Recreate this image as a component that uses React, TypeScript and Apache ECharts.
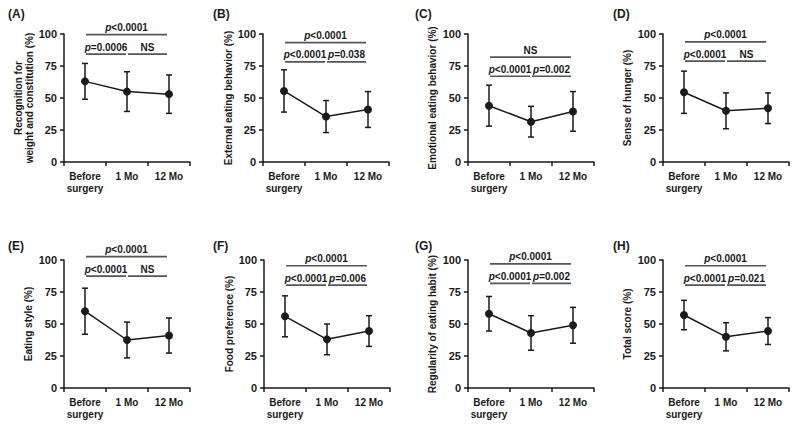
import React, { useEffect, useRef } from 'react';
import * as echarts from 'echarts';

// ---------- data ----------
const categories = ['Before\nsurgery', '1 Mo', '12 Mo'];
const panelLabels = ['(A)', '(B)', '(C)', '(D)', '(E)', '(F)', '(G)', '(H)'];
const yNames = [
  'Recognition for\nweight and constitution (%)',
  'External eating behavior (%)',
  'Emotional eating behavior (%)',
  'Sense of hunger (%)',
  'Eating style (%)',
  'Food preference (%)',
  'Regularity of eating habit (%)',
  'Total score (%)',
];
const yTicks = [0, 25, 50, 75, 100];

const meanA = [63, 55, 53];
const sdA = [14, 15.5, 15];
const meanB = [55.5, 35.5, 41];
const sdB = [16.5, 12.5, 14];
const meanC = [44, 31.5, 39.5];
const sdC = [16, 12, 15.5];
const meanD = [54.5, 40, 42];
const sdD = [16.5, 14, 12];
const meanE = [60, 37.5, 41];
const sdE = [18, 14, 13.7];
const meanF = [56, 38, 44.5];
const sdF = [16, 12, 12];
const meanG = [58, 43, 49];
const sdG = [13.5, 13.5, 14];
const meanH = [57, 40, 44.5];
const sdH = [11.5, 11, 10.5];

const means = [meanA, meanB, meanC, meanD, meanE, meanF, meanG, meanH];
const sds = [sdA, sdB, sdC, sdD, sdE, sdF, sdG, sdH];

// significance: Before vs 12 Mo (top), Before vs 1 Mo, 1 Mo vs 12 Mo
const sigTop = ['p<0.0001', 'p<0.0001', 'NS', 'p<0.0001', 'p<0.0001', 'p<0.0001', 'p<0.0001', 'p<0.0001'];
const sigLeft = ['p=0.0006', 'p<0.0001', 'p<0.0001', 'p<0.0001', 'p<0.0001', 'p<0.0001', 'p<0.0001', 'p<0.0001'];
const sigRight = ['NS', 'p=0.038', 'p=0.002', 'NS', 'NS', 'p=0.006', 'p=0.002', 'p=0.021'];
const sigTopLevel = [99.5, 93.3, 82, 93.8, 102.6, 95.5, 96.9, 95.5];
const sigLowLevel = [84.2, 78.2, 67, 78.8, 87.4, 80.4, 81.7, 80.4];

// ---------- layout ----------
const gridLefts = [64, 263, 468, 663, 64, 264, 468, 663];
const gridTops = [34, 34, 34, 34, 260, 260, 260, 260];
const gridW = 126;
const gridH = 128;
const nameGaps = [28, 23, 30, 30, 30, 29, 30, 30];
const labelPos = [
  [8, 15], [213, 15], [415, 15], [613, 15],
  [8, 247], [213, 247], [415, 247], [613, 247],
];

const FONT = '"Liberation Sans", Arial, Helvetica, sans-serif';
const INK = '#1a1a1a';
const BAR = '#555555';

function richText(s: string) {
  if (s.startsWith('p')) return `{i|p}{n|${s.slice(1)}}`;
  return `{n|${s}}`;
}

export default function App() {
  const ref = useRef<HTMLDivElement>(null);

  useEffect(() => {
    if (!ref.current) return;
    const chart = echarts.init(ref.current, undefined, { renderer: 'svg' });

    const grid: any[] = [];
    const xAxis: any[] = [];
    const yAxis: any[] = [];
    const series: any[] = [];
    const graphic: any[] = [];

    for (let i = 0; i < 8; i++) {
      grid.push({ left: gridLefts[i], top: gridTops[i], width: gridW, height: gridH });
      xAxis.push({
        type: 'category',
        gridIndex: i,
        data: categories,
        boundaryGap: true,
        axisLine: { show: true, lineStyle: { color: INK, width: 1.5 } },
        axisTick: { show: true, length: 4, lineStyle: { color: INK, width: 1.5 } },
        axisLabel: {
          interval: 0,
          margin: 8,
          fontSize: 10,
          fontWeight: 'bold',
          fontFamily: FONT,
          color: INK,
          lineHeight: 12,
        },
        splitLine: { show: false },
      });
      yAxis.push({
        type: 'value',
        gridIndex: i,
        min: yTicks[0],
        max: yTicks[yTicks.length - 1],
        interval: 25,
        name: yNames[i],
        nameLocation: 'middle',
        nameGap: nameGaps[i],
        nameTextStyle: {
          fontSize: 10,
          fontWeight: 'bold',
          fontFamily: FONT,
          color: INK,
          lineHeight: 11,
        },
        axisLine: { show: true, lineStyle: { color: INK, width: 1.5 } },
        axisTick: { show: true, length: 4, lineStyle: { color: INK, width: 1.5 } },
        axisLabel: {
          margin: 7,
          fontSize: 11,
          fontWeight: 'bold',
          fontFamily: FONT,
          color: INK,
        },
        splitLine: { show: false },
      });

      const m = means[i];
      const s = sds[i];
      series.push({
        type: 'custom',
        xAxisIndex: i,
        yAxisIndex: i,
        data: m.map((v, k) => [k, v - s[k], v + s[k]]),
        encode: { x: 0, y: [1, 2] },
        z: 2,
        renderItem: (params: any, api: any) => {
          const x = api.value(0);
          const lo = api.coord([x, api.value(1)]);
          const hi = api.coord([x, api.value(2)]);
          const cap = 3;
          const style = { stroke: INK, lineWidth: 1.5 };
          return {
            type: 'group',
            children: [
              { type: 'line', shape: { x1: lo[0], y1: lo[1], x2: hi[0], y2: hi[1] }, style },
              { type: 'line', shape: { x1: lo[0] - cap, y1: lo[1], x2: lo[0] + cap, y2: lo[1] }, style },
              { type: 'line', shape: { x1: hi[0] - cap, y1: hi[1], x2: hi[0] + cap, y2: hi[1] }, style },
            ],
          };
        },
      });
      series.push({
        type: 'line',
        xAxisIndex: i,
        yAxisIndex: i,
        data: m,
        symbol: 'circle',
        symbolSize: 8,
        itemStyle: { color: INK },
        lineStyle: { color: INK, width: 1.5 },
        z: 3,
      });

      const sigData = [
        [0, 2, sigTopLevel[i], 0],
        [0, 1, sigLowLevel[i], 1],
        [1, 2, sigLowLevel[i], 2],
      ];
      const sigLabels = [sigTop[i], sigLeft[i], sigRight[i]];
      series.push({
        type: 'custom',
        xAxisIndex: i,
        yAxisIndex: i,
        data: sigData,
        encode: { x: [0, 1], y: 2 },
        clip: false,
        z: 4,
        renderItem: (params: any, api: any) => {
          const a = api.value(0);
          const b = api.value(1);
          const y = api.value(2);
          const p1 = api.coord([a, y]);
          const p2 = api.coord([b, y]);
          const x1 = p1[0] + (a === 0 ? 1 : 1);
          const x2 = p2[0] - (b === 2 ? 2 : 1);
          const label = sigLabels[params.dataIndex];
          return {
            type: 'group',
            children: [
              {
                type: 'line',
                shape: { x1, y1: p1[1], x2, y2: p1[1] },
                style: { stroke: BAR, lineWidth: 1.7 },
              },
              {
                type: 'text',
                x: (x1 + x2) / 2,
                y: p1[1] - 2,
                style: {
                  text: richText(label),
                  align: 'center',
                  verticalAlign: 'bottom',
                  fill: INK,
                  font: `bold 10px ${FONT}`,
                  rich: {
                    i: { fontStyle: 'italic', fontWeight: 'bold', fontSize: 10, fontFamily: FONT, fill: INK },
                    n: { fontWeight: 'bold', fontSize: 10, fontFamily: FONT, fill: INK },
                  },
                },
              },
            ],
          };
        },
      });

      graphic.push({
        type: 'text',
        left: labelPos[i][0],
        top: labelPos[i][1] - 7,
        style: {
          text: panelLabels[i],
          fill: INK,
          font: `bold 12px ${FONT}`,
        },
      });
    }

    chart.setOption({
      animation: false,
      backgroundColor: '#ffffff',
      grid,
      xAxis,
      yAxis,
      series,
      graphic,
    });

    return () => chart.dispose();
  }, []);

  return (
    <div
      ref={ref}
      style={{ position: 'absolute', left: 0, top: 0, width: 799, height: 428 }}
    />
  );
}
